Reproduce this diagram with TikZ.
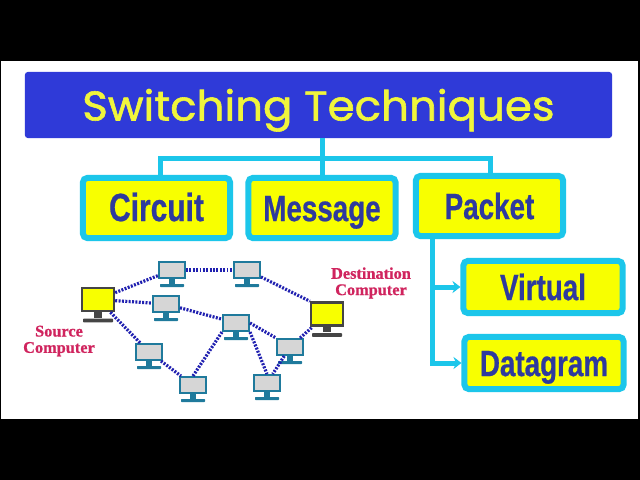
\documentclass[tikz,border=0pt]{standalone}
\usepackage{fontspec}
\usepackage{xcolor}
\newfontfamily\titlefont[FakeBold=1.4,FakeStretch=1.05]{Poppins}
\newfontfamily\kindfont[FakeStretch=0.76,BoldFeatures={FakeBold=0.6}]{Liberation Sans}
\newfontfamily\labelfont[BoldFeatures={FakeBold=0.8}]{Liberation Serif}
\definecolor{switchblue}{HTML}{2f3ad8}
\definecolor{switchcyan}{HTML}{1cc6ea}
\definecolor{switchyellow}{HTML}{f8ff00}
\definecolor{switchtitle}{HTML}{f0f53c}
\definecolor{switchink}{HTML}{2e3a9e}
\definecolor{switchdots}{HTML}{2020b0}
\definecolor{switchteal}{HTML}{1f7a9c}
\definecolor{switchgrey}{HTML}{d6d6d6}
\definecolor{switchdark}{HTML}{454545}
\definecolor{switchred}{HTML}{d0245e}
\usetikzlibrary{arrows.meta}

% name, x, y, screen style, stand colour, stand scale
\newcommand{\pcnode}[6]{%
  \node[#4] (#1) at (#2,#3) {};
  \begin{scope}[shift={(#1.south)}, scale=#6]
    \fill[#5] (-3,0) rectangle (3,4.5);
    \fill[#5, rounded corners=0.5pt] (-12,5) rectangle (12,8);
  \end{scope}
}

\begin{document}
\begin{tikzpicture}[
  x=0.025cm, y=-0.025cm,
  titlebox/.style={rectangle, rounded corners=2pt, fill=switchblue, text=switchtitle,
    minimum width=14.675cm, minimum height=1.65cm, text height=22pt, text depth=0pt,
    font=\titlefont\fontsize{29.5}{30}\selectfont},
  kind/.style={rectangle, rounded corners=3pt, draw=switchcyan, fill=switchyellow,
    line width=0.15cm, text=switchink, minimum width=3.675cm, minimum height=1.5cm,
    text height=18.6pt, text depth=0pt,
    font=\kindfont\bfseries\fontsize{26}{26}\selectfont},
  subkind/.style={kind, minimum width=3.975cm, minimum height=1.3cm},
  link/.style={draw=switchcyan, line width=0.125cm},
  arrow/.style={link, -{Stealth[length=2mm, width=3mm]}},
  dotlink/.style={draw=switchdots, line width=0.08cm, dash pattern=on 1.4pt off 1pt},
  pcblue/.style={rectangle, draw=switchteal, fill=switchgrey, line width=0.05cm,
    minimum width=0.65cm, minimum height=0.4cm, inner sep=0pt},
  pcyellow/.style={rectangle, draw=switchdark, fill=switchyellow, line width=0.06cm,
    minimum width=0.8cm, minimum height=0.58cm, inner sep=0pt},
  pclabel/.style={text=switchred, align=center,
    font=\labelfont\bfseries\fontsize{11.6}{11.6}\selectfont}
]
\useasboundingbox (0,0) rectangle (640,480);
\fill[black] (0,0) rectangle (640,480);
\fill[white] (1,61) rectangle (638,419);

\node[titlebox] (title) at (318.5,105) {Switching Techniques};
\node[kind, font=\kindfont\bfseries\fontsize{28}{28}\selectfont] (circuit) at (156.5,208) {Circuit};
\node[kind] (message) at (322,208) {Message};
\node[kind] (packet) at (489.5,206) {Packet};
\node[subkind] (virtual) at (543,287) {Virtual};
\node[subkind] (datagram) at (544,363) {Datagram};

\coordinate (busl) at (160,158);
\coordinate (busr) at (490,158);
\coordinate (trunk) at (432,239);
\draw[link] (busl |- circuit.north) -- (busl) -- (busr) -- (busr |- packet.north);
\draw[link] (message.north) -- (message.north |- title.south);
\draw[arrow] (trunk) |- (virtual);
\draw[arrow] (trunk) |- (datagram);

\pcnode{source}{98}{299.5}{pcyellow}{switchdark}{1.25}
\pcnode{dest}{327}{314}{pcyellow}{switchdark}{1.25}
\pcnode{pca}{172}{270}{pcblue}{switchteal}{1}
\pcnode{pcb}{166}{304}{pcblue}{switchteal}{1}
\pcnode{pcc}{149}{352}{pcblue}{switchteal}{1}
\pcnode{pcd}{193}{385}{pcblue}{switchteal}{1}
\pcnode{pce}{247}{270}{pcblue}{switchteal}{1}
\pcnode{pcf}{236}{323}{pcblue}{switchteal}{1}
\pcnode{pcg}{290}{347}{pcblue}{switchteal}{1}
\pcnode{pch}{267}{383}{pcblue}{switchteal}{1}

\draw[dotlink] (source) -- (pca);
\draw[dotlink] (source) -- (pcb);
\draw[dotlink] (source) -- (pcc);
\draw[dotlink] (pcc) -- (pcd);
\draw[dotlink] (pca) -- (pce);
\draw[dotlink] (pce) -- (dest.north west);
\draw[dotlink] (pcb) -- (pcf);
\draw[dotlink] (pcd.north) -- (pcf.south west);
\draw[dotlink] (pcf.east) -- (pcg.north west);
\draw[dotlink] (pcf.south east) -- (pch.north);
\draw[dotlink] (pcg) -- (pch);
\draw[dotlink] (pcg) -- (dest);

\node[pclabel] (srclabel) at (59,341) {Source\\Computer};
\node[pclabel] (dstlabel) at (371,283) {Destination\\Computer};
\end{tikzpicture}
\end{document}
